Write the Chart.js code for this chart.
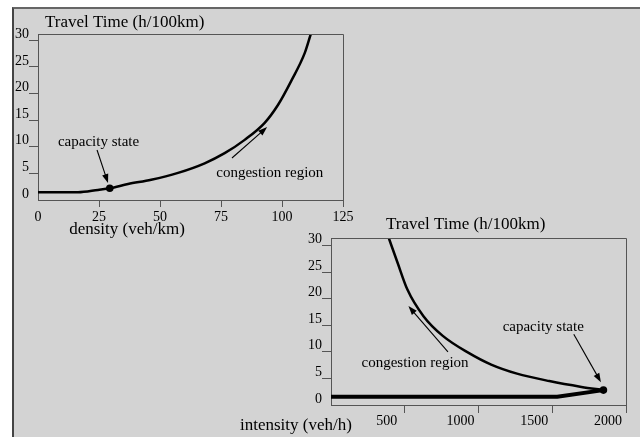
<!DOCTYPE html>
<html>
<head>
<meta charset="utf-8">
<script src="https://cdn.jsdelivr.net/npm/chart.js@4"></script>
<style>
  html, body { margin: 0; padding: 0; background: #fff; }
  #page { position: relative; width: 640px; height: 437px; overflow: hidden; }
  #frame { position: absolute; left: 12px; top: 7px; right: 0; bottom: 0;
           background: #d3d3d3; border-top: 2px solid #666; border-left: 2px solid #444; }
  canvas { position: absolute; left: 0; top: 0; }
</style>
</head>
<body>
<div id="page">
  <div id="frame"></div>
  <canvas id="densityChart" width="640" height="437"></canvas>
  <canvas id="flowChart" width="640" height="437"></canvas>
</div>
<script>
// travel time against density (upper left graph)
const density = [0, 16.4, 24.6, 29.4, 36.9, 46.4, 57.4, 68.3, 76.5, 84.7, 92.9, 98.4, 103.8, 109.3, 111.8];
const timeByDensity = [1.45, 1.45, 1.9, 2.2, 3.0, 3.8, 5.1, 6.9, 8.8, 11.3, 14.5, 17.9, 22.4, 27.6, 31.2];
const capacityDensity = [29.4];
const capacityTimeA = [2.2];
const densityTicks = [0, 25, 50, 75, 100, 125];

// travel time against intensity (lower right graph)
const flowCongested = [393, 452, 518, 627, 758, 933, 1086, 1261, 1480, 1698, 1847];
const timeCongested = [31.3, 26.7, 21.7, 16.7, 13.0, 9.8, 7.6, 5.9, 4.5, 3.4, 2.8];
const flowFree = [0, 1534, 1847];
const timeFree = [1.56, 1.56, 2.8];
const capacityFlow = [1847];
const capacityTimeB = [2.8];
const flowTicks = [500, 1000, 1500, 2000];
const timeTicks = [0, 5, 10, 15, 20, 25, 30];

// annotation texts and arrows, in data units: [x, y]
const notesA = [
  { text: 'capacity state', at: [24.8, 10.9], from: [24.2, 9.4], to: [28.7, 3.2] },
  { text: 'congestion region', at: [95, 5.1], from: [79.5, 7.9], to: [93.9, 13.7] }
];
const notesB = [
  { text: 'capacity state', at: [1439, 14.7], from: [1646, 13.3], to: [1830, 4.3] },
  { text: 'congestion region', at: [570, 7.9], from: [793, 10.0], to: [525, 18.6] }
];

const serif = '"Liberation Serif", "Times New Roman", serif';
Chart.defaults.font.family = serif;
Chart.defaults.color = '#000';
Chart.defaults.animation = false;

const pts = (xs, ys) => xs.map((x, i) => ({ x: x, y: ys[i] }));
const tickColor = c => (c.tick && c.tick.value === 0) ? 'rgba(0,0,0,0)' : '#555';
const plain = v => String(v);

function arrow(ctx, x1, y1, x2, y2) {
  const a = Math.atan2(y2 - y1, x2 - x1);
  const len = 9, half = 3.2;
  ctx.beginPath();
  ctx.moveTo(x1, y1);
  ctx.lineTo(x2 - Math.cos(a) * len * 0.8, y2 - Math.sin(a) * len * 0.8);
  ctx.stroke();
  ctx.beginPath();
  ctx.moveTo(x2, y2);
  ctx.lineTo(x2 - Math.cos(a) * len - Math.sin(a) * half, y2 - Math.sin(a) * len + Math.cos(a) * half);
  ctx.lineTo(x2 - Math.cos(a) * len + Math.sin(a) * half, y2 - Math.sin(a) * len - Math.cos(a) * half);
  ctx.closePath();
  ctx.fill();
}

// box round the plot, axis titles and the annotations
function decor(notes, titles) {
  return {
    id: 'decor',
    afterDraw(chart) {
      const ctx = chart.ctx, a = chart.chartArea;
      const sx = chart.scales.x, sy = chart.scales.y;
      ctx.save();
      ctx.strokeStyle = '#555';
      ctx.lineWidth = 1;
      ctx.beginPath();
      ctx.moveTo(Math.round(a.left) + 0.5, Math.round(a.top) + 0.5);
      ctx.lineTo(Math.round(a.right) + 0.5, Math.round(a.top) + 0.5);
      ctx.lineTo(Math.round(a.right) + 0.5, Math.round(a.bottom) + 0.5);
      ctx.stroke();

      ctx.fillStyle = '#000';
      ctx.textBaseline = 'middle';
      ctx.font = '17px ' + serif;
      titles.forEach(t => {
        ctx.textAlign = t.align;
        ctx.fillText(t.text, a.left + t.dx, (t.ref === 'top' ? a.top : a.bottom) + t.dy);
      });

      ctx.font = '15px ' + serif;
      ctx.textAlign = 'center';
      ctx.strokeStyle = '#000';
      ctx.lineWidth = 1.1;
      notes.forEach(n => {
        ctx.fillText(n.text, sx.getPixelForValue(n.at[0]), sy.getPixelForValue(n.at[1]));
        arrow(ctx, sx.getPixelForValue(n.from[0]), sy.getPixelForValue(n.from[1]),
                   sx.getPixelForValue(n.to[0]), sy.getPixelForValue(n.to[1]));
      });
      ctx.restore();
    }
  };
}

function yAxis(max, width) {
  return {
    type: 'linear', min: 0, max: max,
    afterFit: s => { s.width = width; },
    afterBuildTicks: s => { s.ticks = timeTicks.map(v => ({ value: v })); },
    border: { color: '#555', width: 1 },
    grid: { drawOnChartArea: false, tickLength: 9, color: tickColor, tickColor: tickColor },
    ticks: { padding: 0, labelOffset: -6, font: { size: 14 }, callback: plain }
  };
}

new Chart(document.getElementById('densityChart'), {
  type: 'scatter',
  data: {
    datasets: [
      { data: pts(density, timeByDensity), showLine: true, borderColor: '#000', borderWidth: 2.5,
        pointRadius: 0, tension: 0.3, cubicInterpolationMode: 'monotone' },
      { data: pts(capacityDensity, capacityTimeA), pointRadius: 3.8, backgroundColor: '#000', borderWidth: 0 }
    ]
  },
  options: {
    responsive: false,
    devicePixelRatio: 1,
    layout: { padding: { left: 0, top: 34, right: 297, bottom: 197 } },
    plugins: { legend: { display: false }, tooltip: { enabled: false } },
    scales: {
      x: {
        type: 'linear', min: 0, max: 125,
        afterFit: s => { s.height = 40; },
        afterBuildTicks: s => { s.ticks = densityTicks.map(v => ({ value: v })); },
        border: { color: '#555', width: 1 },
        grid: { drawOnChartArea: false, tickLength: 7, color: tickColor, tickColor: tickColor },
        ticks: { padding: 2, maxRotation: 0, font: { size: 14 }, callback: plain }
      },
      y: yAxis(31.2, 38)
    }
  },
  plugins: [decor(notesA, [
    { text: 'Travel Time (h/100km)', align: 'left', dx: 7, ref: 'top', dy: -11 },
    { text: 'density (veh/km)', align: 'center', dx: 89, ref: 'bottom', dy: 30 }
  ])]
});

new Chart(document.getElementById('flowChart'), {
  type: 'scatter',
  data: {
    datasets: [
      { data: pts(flowCongested, timeCongested), showLine: true, borderColor: '#000', borderWidth: 2.5,
        pointRadius: 0, tension: 0.3, cubicInterpolationMode: 'monotone' },
      { data: pts(flowFree, timeFree), showLine: true, borderColor: '#000', borderWidth: 4,
        pointRadius: 0, tension: 0 },
      { data: pts(capacityFlow, capacityTimeB), pointRadius: 3.8, backgroundColor: '#000', borderWidth: 0 }
    ]
  },
  options: {
    responsive: false,
    devicePixelRatio: 1,
    layout: { padding: { left: 300, top: 238, right: 4, bottom: 0 } },
    plugins: { legend: { display: false }, tooltip: { enabled: false } },
    scales: {
      x: {
        type: 'linear', min: 0, max: 2000,
        afterFit: s => { s.height = 32; },
        afterBuildTicks: s => { s.ticks = flowTicks.map(v => ({ value: v })); },
        border: { color: '#555', width: 1 },
        grid: { drawOnChartArea: false, tickLength: 8, color: '#555', tickColor: '#555' },
        ticks: { padding: 0, labelOffset: -18, maxRotation: 0, font: { size: 14 }, callback: plain }
      },
      y: yAxis(31.4, 31)
    }
  },
  plugins: [decor(notesB, [
    { text: 'Travel Time (h/100km)', align: 'left', dx: 55, ref: 'top', dy: -13 },
    { text: 'intensity (veh/h)', align: 'left', dx: -91, ref: 'bottom', dy: 21 }
  ])]
});
</script>
</body>
</html>
